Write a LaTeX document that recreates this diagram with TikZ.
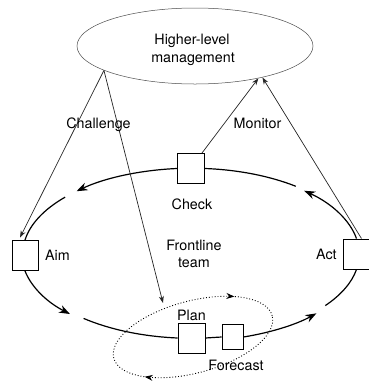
\documentclass[tikz,border=0pt]{standalone}
\usepackage{fontspec}
\setmainfont{TeX Gyre Heros}
\usetikzlibrary{arrows.meta,shapes.geometric,decorations.markings,calc}
\begin{document}
\begin{tikzpicture}[x=1pt,y=-1pt,
  box/.style={draw, line width=0.9pt, minimum width=27pt, minimum height=30pt, inner sep=0pt},
  lbl/.style={font=\fontsize{14.3}{18}\selectfont, inner sep=0pt, anchor=base},
  cyc/.style={line width=1.2pt},
  ctip/.style={-{Stealth[length=11pt,width=8pt]}},
  ttip/.style={-{Stealth[length=7pt,width=5pt]}},
  thinline/.style={line width=0.7pt, black!85},
  er/.style={x radius=168pt, y radius=85pt},
]
\useasboundingbox (0,0) rectangle (368,384);

% higher-level management
\node[draw, black!70, line width=0.5pt, ellipse, minimum width=236pt, minimum height=76pt, inner sep=0pt] (mgmt) at (195,46) {};
\node[lbl] (t1) at (192,44) {Higher-level};
\node[lbl] (t2) at (193,62) {management};

% boxes
\node[box] (check) at (191,168.5) {};
\node[box, minimum width=26pt] (aim) at (25,255.5) {};
\node[box] (act) at (356.5,254) {};
\node[box] (plan) at (191.5,338) {};
\node[box, minimum width=21pt, minimum height=25pt] (fc) at (232.5,337) {};

% cycle
\draw[cyc,ctip] (check.west) arc[start angle=94.95, end angle=133.2, er];
\draw[cyc] (aim.north) arc[start angle=170.9, end angle=138.5, er];
\draw[cyc,ctip] (aim.south) arc[start angle=191.2, end angle=224.5, er];
\draw[cyc] (plan.west) arc[start angle=265.2, end angle=230, er];
\draw[cyc] (plan.east) -- (fc.west);
\draw[cyc,ctip] (fc.east) arc[start angle=287.7, end angle=317.6, er];
\draw[cyc] (act.south) arc[start angle=349.8, end angle=323, er];
\draw[cyc,ctip] (act.north) arc[start angle=10.2, end angle=47.7, er];
\draw[cyc] (check.east) arc[start angle=85.7, end angle=52, er];

% plan/forecast loop
\draw[dotted, line width=0.9pt, rotate around={15:(193,337)}, postaction={decorate},
  decoration={markings,
    mark=at position 0.117 with {\arrowreversed{Stealth[length=8pt,width=6pt]}},
    mark=at position 0.599 with {\arrowreversed{Stealth[length=8pt,width=6pt]}}}]
  (193,337) ellipse[x radius=82pt, y radius=36pt];

% challenge & monitor
\coordinate (chal) at (mgmt.195);
\coordinate (loopin) at (163,303);
\draw[thinline,ttip] (chal) -- ($(aim.north)+(-5,-2.5)$);
\draw[thinline,ttip] (chal) -- (loopin);
\draw[thinline,ttip] ($(check.north east)+(-3,0)$) -- (mgmt.333);
\draw[thinline,ttip] ($(act.north)+(5,0)$) -- (mgmt.335);

% labels
\node[lbl] (tc) at (98.5,128) {Challenge};
\node[lbl] (tm) at (257.5,128) {Monitor};
\node[lbl] (tch) at (192,209) {Check};
\node[lbl, anchor=base west] (ta) at (45,260) {Aim};
\node[lbl, anchor=base west] (tact) at (316,259) {Act};
\node[lbl] (tf) at (194,250) {Frontline};
\node[lbl] (tt) at (194,267) {team};
\node[lbl] (tp) at (191.5,320) {Plan};
\node[lbl] (tfc) at (236,370) {Forecast};
\end{tikzpicture}
\end{document}
